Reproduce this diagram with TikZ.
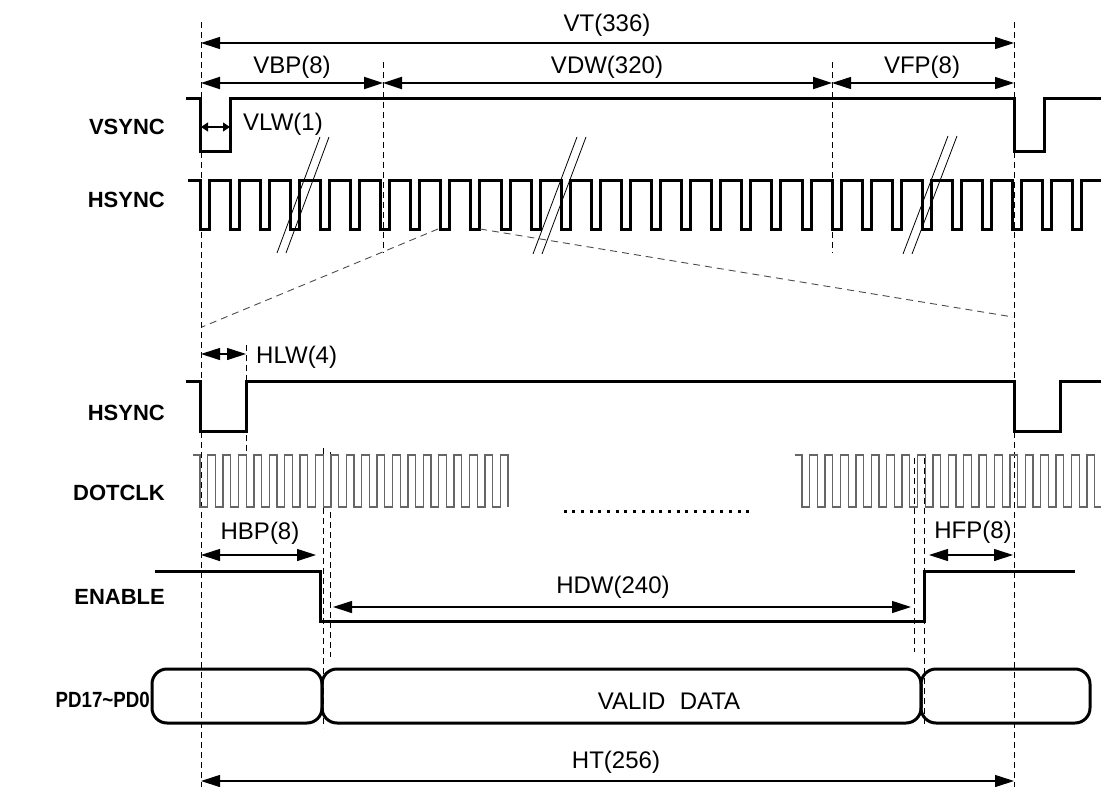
\documentclass[tikz,border=0pt]{standalone}
\usepackage{fontspec}
\setmainfont{Liberation Sans}
\usetikzlibrary{arrows.meta}
\begin{document}
\begin{tikzpicture}[x=1pt,y=-1pt,
  sig/.style={line width=3pt, line join=miter},
  clk/.style={line width=1.3pt, draw=black!60},
  guide/.style={line width=1pt, dash pattern=on 6pt off 4pt},
  zoomln/.style={line width=0.9pt, draw=black!70, dash pattern=on 7pt off 5pt},
  brk/.style={line width=0.8pt},
  dim/.style={line width=1.1pt, {Triangle[length=19pt,width=12pt]}-{Triangle[length=19pt,width=12pt]}},
  dimthick/.style={line width=2pt, {Triangle[length=19pt,width=12pt]}-{Triangle[length=19pt,width=12pt]}},
  dimsmall/.style={line width=1.1pt, {Triangle[length=7pt,width=9pt]}-{Triangle[length=7pt,width=9pt]}},
  lab/.style={font=\fontsize{24}{28}\selectfont, inner sep=0pt},
  sname/.style={font=\fontsize{22}{26}\selectfont\bfseries, inner sep=0pt, anchor=east},
  databox/.style={line width=3pt, rounded corners=15pt}]
\useasboundingbox (0,0) rectangle (1101,787);

% ---- vertical guide lines ----
\draw[guide] (201,22) -- (201,787);
\draw[guide] (1014,22) -- (1014,787);
\draw[guide] (383,62) -- (383,253);
\draw[guide] (832,62) -- (832,253);
\draw[guide] (246,345) -- (246,455);
\draw[guide] (323,448) -- (323,728);
\draw[guide] (330,452) -- (330,657);
\draw[guide] (914,458) -- (914,652);
\draw[guide] (924,458) -- (924,725);

% ---- top dimension arrows ----
\coordinate (vtL) at (201,43); \coordinate (vtR) at (1014,43);
\draw[dim] (vtL) -- (vtR);
\node[lab] (vt) at (607,25) {VT(336)};
\coordinate (vbL) at (201,83); \coordinate (vbR) at (383,83);
\coordinate (vdR) at (832,83); \coordinate (vfR) at (1014,83);
\draw[dimthick] (vbL) -- (vbR);
\draw[dimthick] (vbR) -- (vdR);
\draw[dim] (vdR) -- (vfR);
\node[lab] (vbp) at (292,67) {VBP(8)};
\node[lab] (vdw) at (607,67) {VDW(320)};
\node[lab] (vfp) at (922,67) {VFP(8)};

% ---- VSYNC ----
\node[sname] (lvs) at (165,127) {VSYNC};
\draw[sig] (186,98) -- (200,98) -- (200,151) -- (230,151) -- (230,98) -- (1014,98)
  -- (1014,151) -- (1044,151) -- (1044,98) -- (1101,98);
\coordinate (vlwL) at (201,127); \coordinate (vlwR) at (230,127);
\draw[dimsmall] (vlwL) -- (vlwR);
\node[lab, anchor=west] (vlw) at (243,124) {VLW(1)};

% ---- HSYNC (top) ----
\node[sname] (lhs1) at (165,200) {HSYNC};
\draw[sig] (188,180) -- (200,180)
  foreach \k in {0,...,29}{ -- ({200+30.1*\k},180) -- ({200+30.1*\k},229)
     -- ({209+30.1*\k},229) -- ({209+30.1*\k},180) } -- (1101,180);

% break marks
\draw[brk] (320,137) -- (277,253);
\draw[brk] (329,137) -- (286,253);
\draw[brk] (577,137) -- (533,254);
\draw[brk] (586,137) -- (542,254);
\draw[brk] (948,136) -- (903,254);
\draw[brk] (957,136) -- (912,254);

% zoom lines
\coordinate (zA) at (438,229); \coordinate (zA2) at (202,327);
\coordinate (zB) at (480,229); \coordinate (zB2) at (1013,317);
\draw[zoomln] (zA) -- (zA2);
\draw[zoomln] (zB) -- (zB2);

% ---- HSYNC (detail) ----
\coordinate (hlwL) at (201,354); \coordinate (hlwR) at (246,354);
\draw[dim] (hlwL) -- (hlwR);
\node[lab, anchor=west] (hlw) at (256,357) {HLW(4)};
\node[sname] (lhs2) at (165,413) {HSYNC};
\draw[sig] (186,381) -- (200,381) -- (200,431) -- (246,431) -- (246,381) -- (1014,381)
  -- (1014,431) -- (1060,431) -- (1060,381) -- (1101,381);

% ---- DOTCLK ----
\node[sname] (ldc) at (165,493) {DOTCLK};
\draw[clk] (193,455) -- (200,455)
  foreach \k in {0,...,19}{ -- ({200+15.4*\k},455) -- ({200+15.4*\k},507)
     -- ({207.7+15.4*\k},507) -- ({207.7+15.4*\k},455) } -- (508,455) -- (508,507);
\draw[clk] (795,455) -- (802,455)
  foreach \k in {0,...,19}{ -- ({802+15.4*\k},455) -- ({802+15.4*\k},507)
     -- ({809.7+15.4*\k},507) -- ({809.7+15.4*\k},455) };
\foreach \k in {0,...,21}{ \fill ({565+8.7*\k-1.5},{509.5}) rectangle +(3,3); }

% ---- ENABLE ----
\coordinate (hbL) at (201,555); \coordinate (hbR) at (316,555);
\draw[dim] (hbL) -- (hbR);
\node[lab] (hbp) at (260,533) {HBP(8)};
\coordinate (hfL) at (929,555); \coordinate (hfR) at (1013,555);
\draw[dim] (hfL) -- (hfR);
\node[lab] (hfp) at (973,532) {HFP(8)};
\node[sname] (len) at (165,597) {ENABLE};
\draw[sig] (155,571) -- (320,571) -- (320,621) -- (924,621) -- (924,571) -- (1075,571);
\coordinate (hdL) at (333,607); \coordinate (hdR) at (911,607);
\draw[dim] (hdL) -- (hdR);
\node[lab] (hdw) at (613,587) {HDW(240)};

% ---- PD17~PD0 ----
\node[sname] (lpd) at (150,700) {\scalebox{0.85}[1]{PD17\char`~PD0}};
\draw[databox] (152,669) rectangle (322,723);
\draw[databox] (322,669) rectangle (921,723);
\draw[databox] (921,669) rectangle (1090,723);
\node[lab] (vd) at (669,701) {VALID\hspace{0.6em}DATA};

% ---- HT ----
\coordinate (htL) at (201,781); \coordinate (htR) at (1014,781);
\draw[dim] (htL) -- (htR);
\node[lab] (ht) at (616,762) {HT(256)};
\end{tikzpicture}
\end{document}
